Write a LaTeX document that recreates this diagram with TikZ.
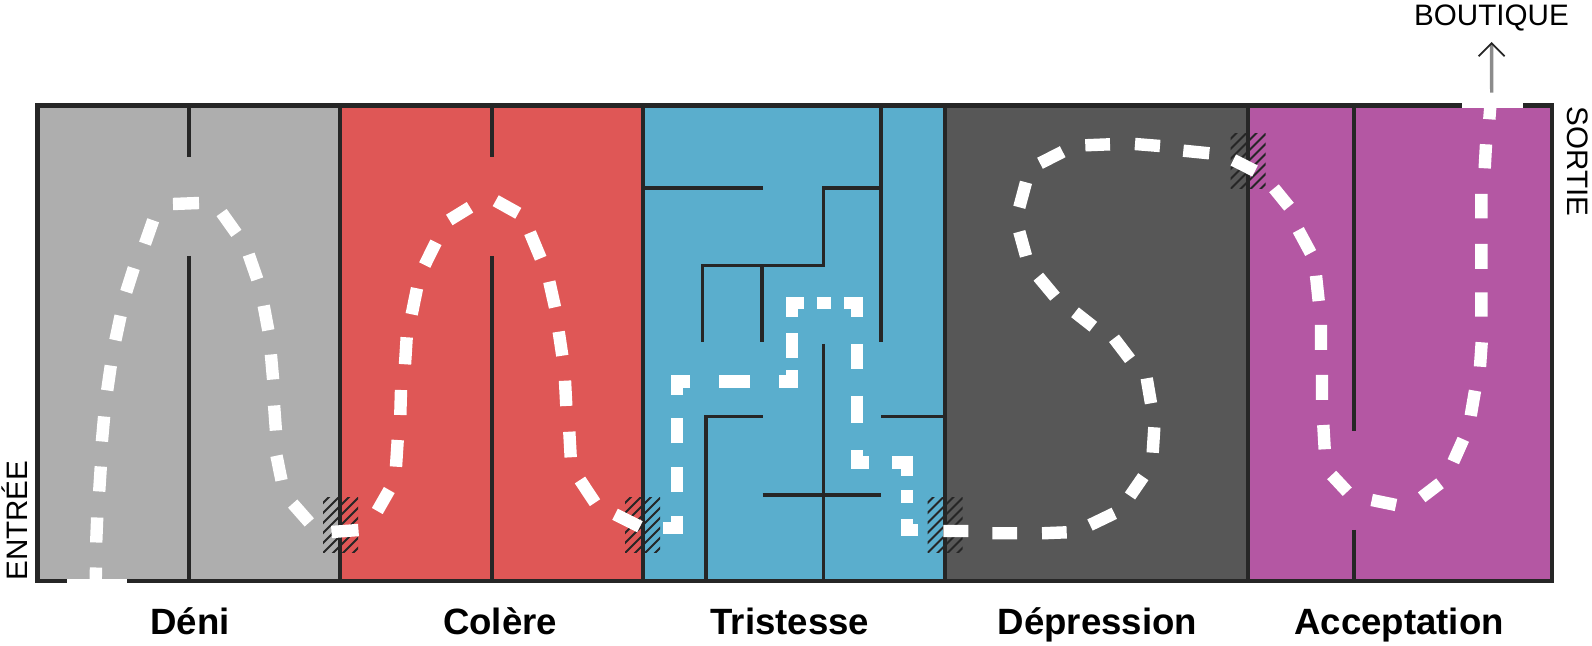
\documentclass[tikz,border=0pt]{standalone}
\usepackage{fontspec}
\setmainfont{Liberation Sans}
\usetikzlibrary{arrows.meta}
\definecolor{DeniGray}{HTML}{AEAEAE}
\definecolor{ColereRed}{HTML}{DF5756}
\definecolor{TristesseBlue}{HTML}{5AAECD}
\definecolor{DepressionGray}{HTML}{575757}
\definecolor{AcceptationPurple}{HTML}{B457A3}
\definecolor{WallDark}{HTML}{262626}
\tikzset{
    wall/.style={draw=WallDark,line width=2pt},
    outerwall/.style={draw=WallDark,line width=2.3pt},
    route/.style={draw=white,line width=6.2pt},
    stage/.style={anchor=base,font=\fontsize{18.3}{20}\selectfont\bfseries},
    sidelabel/.style={font=\fontsize{14.8}{16}\selectfont,inner sep=0pt},
}
\newcommand\RoomFill[3]{%
    \fill[#3] (#1,105.5) rectangle (#2,581);
}
\newcommand\GateHatch[2]{%
    \begin{scope}
        \clip (#1-17.5,#2-27.5) rectangle (#1+17.5,#2+27.5);
        \foreach \d in {-60,-50,...,60}
            \draw[WallDark,line width=1pt] ({#1+\d-40},{#2+40}) -- ({#1+\d+40},{#2-40});
    \end{scope}
}
\begin{document}
\begin{tikzpicture}[x=0.5pt,y=-0.5pt]
    \useasboundingbox (0,0) rectangle (1592,646);
    \RoomFill{37.5}{340}{DeniGray}
    \RoomFill{340}{643}{ColereRed}
    \RoomFill{643}{945}{TristesseBlue}
    \RoomFill{945}{1248}{DepressionGray}
    \RoomFill{1248}{1552}{AcceptationPurple}
    \GateHatch{340.5}{525.5}
    \GateHatch{642.5}{525.5}
    \GateHatch{945}{525.5}
    \GateHatch{1248}{161.5}
    % outline
    \draw[outerwall] (37.5,105.5) rectangle (1552,581);
    \foreach \x in {340,643,945,1248}
        \draw[wall] (\x,105.5) -- (\x,581);
    \draw[white,line width=2.3pt] (67,581) -- (127,581);
    \draw[white,line width=2.3pt] (1462,105.5) -- (1523,105.5);
    % walls
    \draw[wall] (188.5,105.5) -- (188.5,157) (188.5,256) -- (188.5,581);
    \draw[wall] (491.7,105.5) -- (491.7,157) (491.7,256.5) -- (491.7,581);
    \draw[wall] (1354.3,105.5) -- (1354.3,431) (1354.3,530) -- (1354.3,581);
    \begin{scope}[line width=1.8pt]
        \draw[WallDark] (881,105.5) -- (881,341.7);
        \draw[WallDark] (643,188.3) -- (762.7,188.3);
        \draw[WallDark] (881,188.3) -- (823.3,188.3) -- (823.3,265.7) -- (702.3,265.7) -- (702.3,341.7);
        \draw[WallDark] (762,265.7) -- (762,341.7);
        \draw[WallDark] (823.3,344) -- (823.3,581);
        \draw[WallDark] (762.7,416.7) -- (705.7,416.7) -- (705.7,581);
        \draw[WallDark] (881,416.7) -- (945,416.7);
        \draw[WallDark] (762.7,495) -- (881,495);
    \end{scope}
    % path, room by room
    \draw[route] (95.7,581) -- (96,567.5) (96.2,542.5) -- (97.2,517.5) (99.2,491.5) -- (100.8,466.5)
        (101.9,441.5) -- (104.1,416.5) (107.2,390.4) -- (110.8,365.6) (115.4,340.2) -- (120.6,315.8)
        (126.2,291.9) -- (133.8,268.1) (145,243.7) -- (153.2,220.3) (173,204) -- (199,203)
        (221.6,212.6) -- (236.4,233.4) (248.7,254.6) -- (257.3,279.4) (263.7,305.7) -- (268.3,330.3)
        (270.9,354.5) -- (273.1,379.5) (274.1,405.5) -- (275.9,430.5) (276.5,455.7) -- (281.5,480.3)
        (292.7,503.6) -- (309.3,522.4) (331.5,532) -- (358.5,530);
    \draw[route] (377.3,511) -- (389.3,490) (396,466.7) -- (397.7,440) (400.3,415) -- (401,390)
        (405,364.3) -- (406.7,337.3) (411.7,314.3) -- (417,288.3) (424.7,265) -- (436,242.3)
        (449.3,220) -- (470,207.3) (495.7,200.7) -- (518.3,213.3) (530,232.7) -- (540.7,258.3)
        (549.3,281.7) -- (555,307.3) (558.7,331.7) -- (562.3,355.7) (565,380.7) -- (566.3,406)
        (569.3,431.7) -- (570.7,457.3) (580,480) -- (595,502.7) (615,514.3) -- (640,526.7);
    \draw[route] (663,528.3) -| (677,516) (677,491.7) -- (677,466.7) (677,443.3) -- (677,418.3)
        (677,395) |- (690,381.7) (719,381.7) -- (750,381.7) (779.3,381.7) -| (791.7,370)
        (791.7,358) -- (791.7,333) (791.7,316.7) |- (804,303.3) (816.7,303.3) -- (831,303.3)
        (844,303.3) -| (856.7,316.7) (856.7,344) -- (856.7,368.7) (856.7,396) -- (856.7,422.7)
        (856.7,450) |- (869.3,462.7) (892.3,462.7) -| (906.7,475.7) (906.7,490) -- (906.7,503)
        (906.7,519) |- (918.3,530);
    \draw[route] (943.3,531) -- (968.3,531) (992.3,533.3) -- (1017,533.3) (1042,533.3) -- (1066.7,532.3)
        (1090,525) -- (1114.3,513.3) (1130,496) -- (1143.3,476.7) (1152.7,452.7) -- (1154.3,427.3)
        (1151,403.3) -- (1146.7,378.3) (1130,359.3) -- (1114,338.3) (1093.3,326.7) -- (1075,312.3)
        (1055,296.7) -- (1038.3,276.7) (1026,256) -- (1019.3,231.7) (1019.3,207.3) -- (1026,182.3)
        (1040,163.3) -- (1062.7,151.7) (1085.3,145.3) -- (1110,144.3) (1135,144) -- (1160,146)
        (1183.3,150.7) -- (1209.3,153.3) (1233.3,160) -- (1255,171);
    \draw[route] (1274,188.3) -- (1289,206.7) (1298.3,230) -- (1310.7,253) (1316,275.7) -- (1318.7,301)
        (1321,325) -- (1321,350) (1322,375) -- (1322,400) (1323.3,425) -- (1324.7,449.3)
        (1331.7,475) -- (1347.3,491.7) (1371.7,500) -- (1396,505) (1421.7,497.3) -- (1440,483.3)
        (1453.3,461.7) -- (1463.3,439.3) (1470.7,415.7) -- (1475,390.7) (1480,366.7) -- (1481.7,342.3)
        (1481.3,316.7) -- (1481.3,292.3) (1481.3,269) -- (1481.3,244) (1481.3,218.3) -- (1481.3,194)
        (1484.7,168.3) -- (1486,144.3) (1489.3,119.3) -- (1490.3,106.7);
    % labels
    \node[stage] (deni) at (190,634.5) {Déni};
    \node[stage] (colere) at (500,634.5) {Colère};
    \node[stage] (tristesse) at (790,634.5) {Tristesse};
    \node[stage] (depression) at (1097.5,634.5) {Dépression};
    \node[stage] (acceptation) at (1399,634.5) {Acceptation};
    \node[sidelabel,rotate=90,anchor=base west] (entree) at (27,581) {ENTRÉE};
    \node[sidelabel,rotate=-90,anchor=base west] (sortie) at (1567,106.5) {SORTIE};
    \node[sidelabel,anchor=base] (boutique) at (1491.5,26) {BOUTIQUE};
    \coordinate (ExitTop) at (1491.7,92.7);
    \draw[draw=gray!90,line width=1.7pt,shorten >=5pt,-{Straight Barb[length=6.5pt,width=13pt,line width=0.9pt,color=WallDark]}] (ExitTop) -- (boutique.south);
\end{tikzpicture}
\end{document}
